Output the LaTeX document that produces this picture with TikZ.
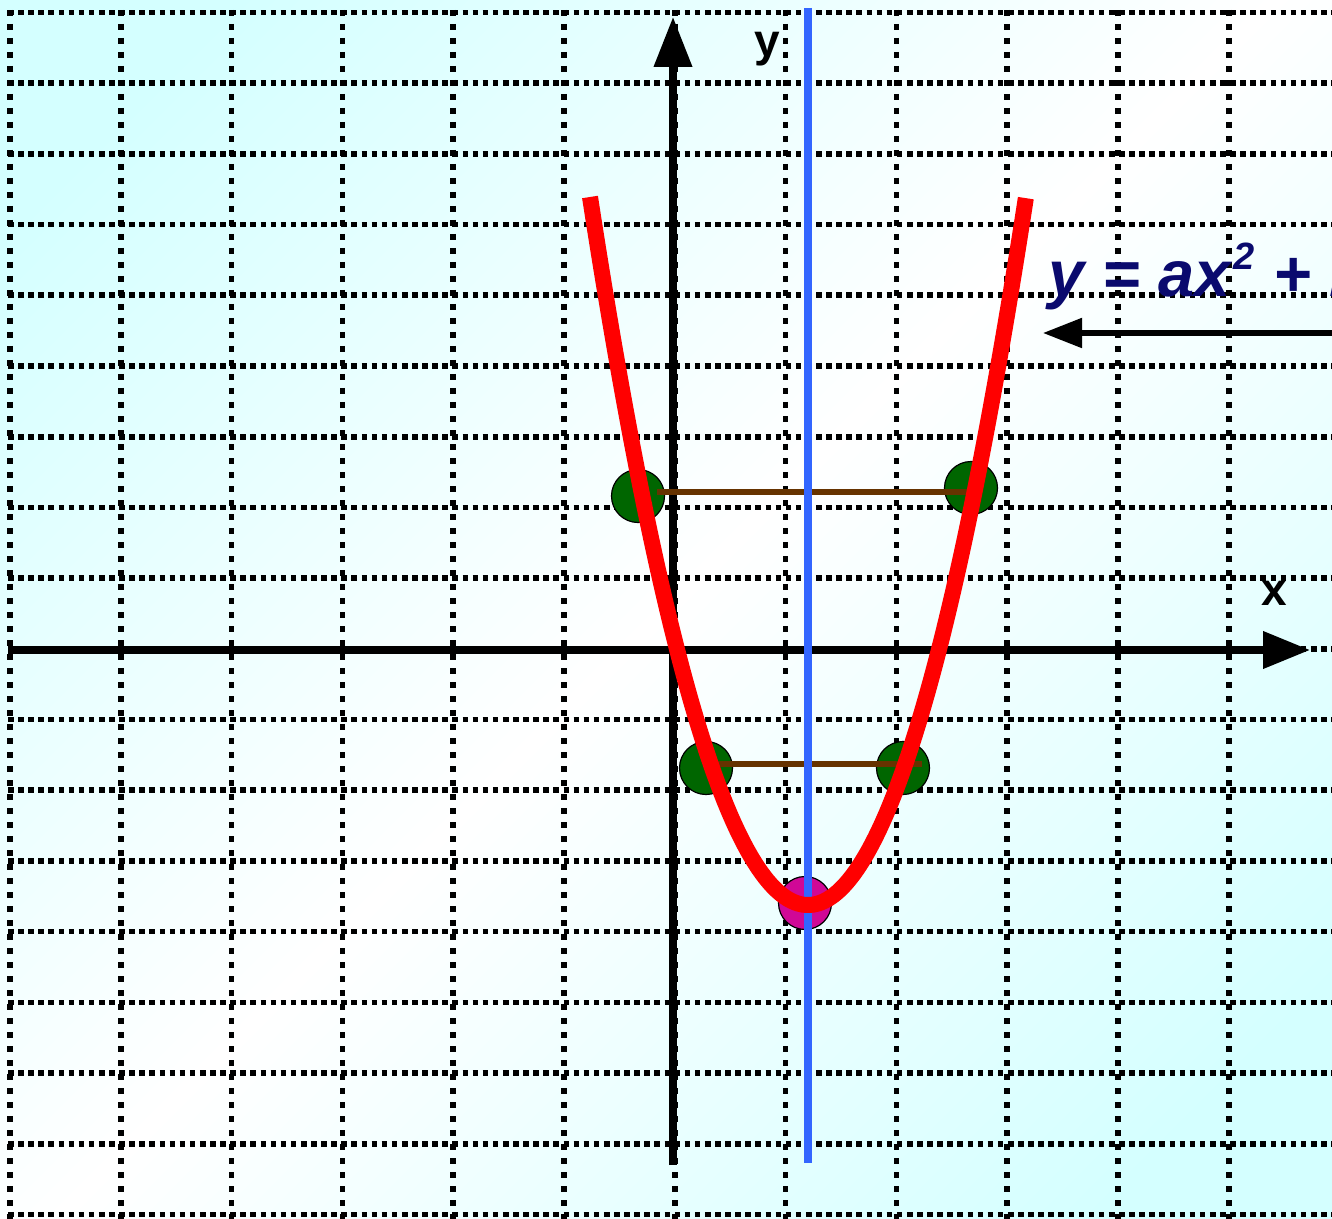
\documentclass[tikz,border=0pt]{standalone}
\usepackage{fontspec}
\setmainfont{Liberation Sans}
\usetikzlibrary{arrows.meta}
\definecolor{bgcyan}{RGB}{212,255,255}
\definecolor{dgreen}{RGB}{0,102,0}
\definecolor{vmag}{RGB}{208,8,150}
\definecolor{brownln}{RGB}{102,51,0}
\definecolor{axblue}{RGB}{51,102,255}
\definecolor{navyeq}{RGB}{10,10,110}
\begin{document}
\begin{tikzpicture}[x=0.5pt,y=-0.5pt,
  hgrid/.style={line width=2.8pt, dash pattern=on 2.8pt off 2.25pt},
  vgrid/.style={line width=2.8pt, dash pattern=on 2.8pt off 4.2pt},
  axisline/.style={line width=3.6pt},
  dotpt/.style={circle, draw=black, line width=0.6pt, minimum size=26.5pt, inner sep=0pt},
  chord/.style={draw=brownln, line width=2.6pt},
  lbl/.style={font=\fontsize{23pt}{28pt}\selectfont\bfseries, anchor=base, inner sep=0pt}
]
\useasboundingbox (0,0) rectangle (1332,1219);
\clip (0,0) rectangle (1332,1219);
\shade[top color=bgcyan, bottom color=bgcyan, middle color=white, shading angle=45] (-100,-100) rectangle (1432,1319);
% grid
\foreach \k in {0,...,17} \draw[hgrid] (8,{12.5+70.7*\k}) -- (1340,{12.5+70.7*\k});
\foreach \k in {0,...,11} \draw[vgrid] ({10+110.8*\k},10) -- ({10+110.8*\k},1225);
% axes
\coordinate (xs) at (8,650);
\coordinate (xe) at (1310,650);
\coordinate (ys) at (673,1165);
\coordinate (ye) at (673,17);
\draw[axisline, -{Triangle[length=23.5pt,width=18pt]}] (xs) -- (xe);
\draw[axisline, -{Triangle[length=25pt,width=18.5pt]}] (ys) -- (ye);
\node[lbl] (ylab) at (767,57) {y};
\node[lbl] (xlab) at (1274,605) {x};
% points
\node[dotpt, fill=dgreen] (g1) at (638,496) {};
\node[dotpt, fill=dgreen] (g2) at (971,488) {};
\node[dotpt, fill=dgreen] (g3) at (706,768) {};
\node[dotpt, fill=dgreen] (g4) at (903,768) {};
\coordinate (b1) at (657,492);
\coordinate (b2) at (982,492);
\coordinate (b3) at (715,764);
\coordinate (b4) at (922,764);
\draw[chord] (b1) -- (b2);
\draw[chord] (b3) -- (b4);
\node[dotpt, fill=vmag] (v) at (805,903) {};
% axis of symmetry
\coordinate (st) at (808,8);
\coordinate (sb) at (808,1163);
\draw[axblue, line width=3.6pt] (st) -- (sb);
% parabola
\draw[red, line width=8pt] plot[domain=-1:1, samples=120, smooth] ({808+218*\x},{905-708*\x*\x});
% formula and arrow
\node[anchor=base west, text=navyeq, inner sep=0pt,
  font=\fontsize{32.5pt}{39pt}\selectfont\bfseries\itshape] (eq) at (1048,297)
  {y = ax\kern1.5pt\raisebox{0.42em}{\fontsize{19pt}{20pt}\selectfont 2} + bx + c};
\coordinate (ar) at (1340,333);
\coordinate (al) at (1043,333);
\draw[line width=2.6pt, -{Triangle[length=19.5pt,width=14.5pt]}] (ar) -- (al);
\end{tikzpicture}
\end{document}
